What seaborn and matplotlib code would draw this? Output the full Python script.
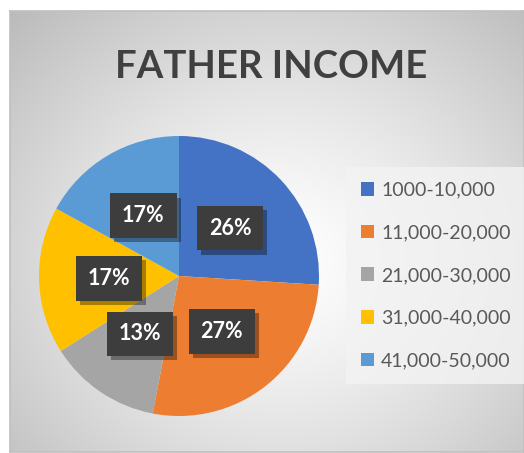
import numpy as np
import matplotlib
matplotlib.use("Agg")
import matplotlib.pyplot as plt
import matplotlib.patheffects as pe
from matplotlib.patches import Patch
import seaborn as sns

categories = ["1000-10,000", "11,000-20,000", "21,000-30,000", "31,000-40,000", "41,000-50,000"]
shares = [26, 27, 13, 17, 17]
colors = ["#4472C4", "#ED7D31", "#A5A5A5", "#FFC000", "#5B9BD5"]
title = "FATHER INCOME"

sns.set_theme(style="white")
plt.rcParams["font.family"] = ["Lato", "DejaVu Sans"]
palette = sns.color_palette(colors)

W, H = 524, 453
fig = plt.figure(figsize=(W / 100, H / 100), dpi=100, facecolor="white")

# chart area with radial gradient
bg = fig.add_axes([10 / W, 1 / H, (W - 10) / W, 441 / H])
yy, xx = np.mgrid[0:441, 0:514]
d = np.sqrt(((xx - 270) / 330.0) ** 2 + ((yy - 250) / 300.0) ** 2)
shade = 1.0 - 0.22 * np.clip(d, 0, 1.2) ** 1.3
img = np.dstack([shade, shade, shade])
bg.imshow(img, aspect="auto", extent=(0, 1, 0, 1), origin="upper")
bg.set_xticks([])
bg.set_yticks([])
for s in bg.spines.values():
    s.set_color("#bfbfbf")
    s.set_linewidth(1.2)

fig.text(271 / W, 1 - 67 / H, title, ha="center", va="center",
         fontsize=27.5, fontweight="bold", color="#404040")

# pie
ax = fig.add_axes([39 / W, (H - 416) / H, 280 / W, 280 / H])
ax.set_facecolor("none")
wedges, texts, autotexts = ax.pie(
    shares, colors=palette, startangle=90, counterclock=False,
    autopct="%d%%", pctdistance=0.5, radius=1,
    wedgeprops=dict(linewidth=0),
    textprops=dict(color="white", fontsize=15.5, fontweight="bold"))
ax.set_xlim(-1, 1)
ax.set_ylim(-1, 1)
ax.set_aspect("equal")
for t in autotexts:
    t.set_bbox(dict(boxstyle="square,pad=0.55", facecolor="#3d3d3d", edgecolor="none"))
    t.get_bbox_patch().set_path_effects([
        pe.SimplePatchShadow(offset=(3, -3), shadow_rgbFace="black", alpha=0.35),
        pe.Normal()])

handles = [Patch(facecolor=c, edgecolor="none") for c in palette]
leg = fig.legend(handles, categories, loc="upper left",
                 bbox_to_anchor=(346 / W, 1 - 167 / H),
                 frameon=True, fancybox=False, fontsize=14,
                 handlelength=0.7, handleheight=0.7, handletextpad=0.35,
                 labelspacing=1.32, borderpad=0.75, borderaxespad=0)
leg.get_frame().set_facecolor("#f3f3f3")
leg.get_frame().set_edgecolor("none")
leg.get_frame().set_alpha(0.8)
for t in leg.get_texts():
    t.set_color("#595959")

fig.savefig("out.png", dpi=100, facecolor="white")
